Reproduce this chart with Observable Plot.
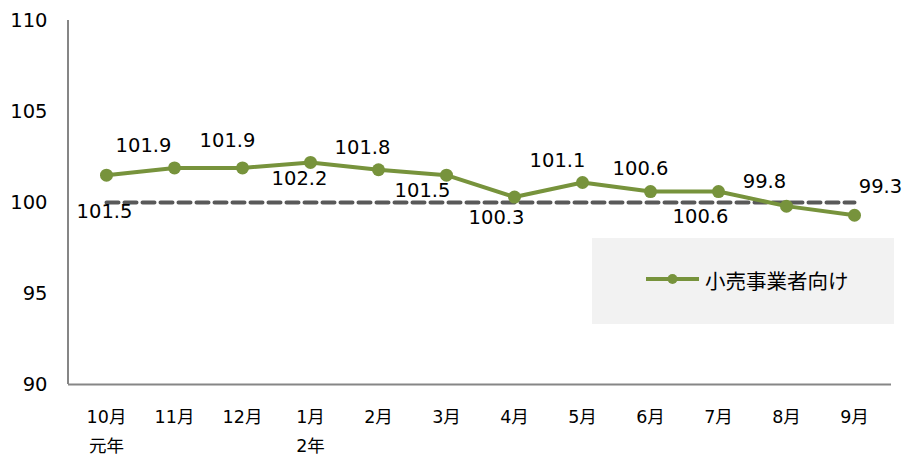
<!DOCTYPE html>
<html>
<head>
<meta charset="utf-8">
<script src="https://cdn.jsdelivr.net/npm/d3@7"></script>
<script src="https://cdn.jsdelivr.net/npm/@observablehq/plot@0.6"></script>
<style>
  html, body { margin: 0; padding: 0; background: #fff; }
  #wrap { position: relative; width: 906px; height: 459px; font-family: "DejaVu Sans", "Noto Sans CJK JP", sans-serif; }
  #wrap svg { overflow: visible; }
  #legend { position: absolute; left: 592px; top: 238px; width: 302px; height: 86px; background: #F2F2F2; }
  #legend svg { position: absolute; left: 52px; top: 33px; }
  #legend span { position: absolute; left: 113px; top: 30px; font-size: 20.5px; color: #000; line-height: 24px; white-space: nowrap; font-family: "Noto Sans CJK JP", sans-serif; }
</style>
</head>
<body>
<div id="wrap"></div>
<script>
// ---- data ----
const months = ["10月","11月","12月","1月","2月","3月","4月","5月","6月","7月","8月","9月"];
const years  = ["元年","","","2年","","","","","","","",""];
const values = [101.5,101.9,101.9,102.2,101.8,101.5,100.3,101.1,100.6,100.6,99.8,99.3];
const baseline = 100;
const yTicks = [90, 95, 100, 105, 110];
const seriesName = "小売事業者向け";

// ---- layout (label nudges, px) ----
const labelNudge = [[-2,37],[-31,-22],[-15,-27],[-11,16],[-16,-22],[-24,16],[-18,21],[-25,-22],[-10,-23],[-18,25],[-22,-24],[26,-28]];

const green = "#77933C";
const data = months.map((m, i) => ({month: m, value: values[i]}));

const yAxisLine = (index, scales, values, dims) => {
  const l = d3.create("svg:line")
    .attr("x1", dims.marginLeft).attr("x2", dims.marginLeft)
    .attr("y1", scales.y(110)).attr("y2", scales.y(90))
    .attr("stroke", "#868686").attr("stroke-width", 2);
  return l.node();
};

const chart = Plot.plot({
  width: 906,
  height: 459,
  marginLeft: 68,
  marginRight: 15,
  marginTop: 20,
  marginBottom: 75,
  style: {fontFamily: '"DejaVu Sans", "Noto Sans CJK JP", sans-serif', background: "#fff", color: "#000", overflow: "visible"},
  x: {type: "point", domain: months, padding: 0.5},
  y: {domain: [90, 110]},
  marks: [
    Plot.axisY({ticks: yTicks, tickSize: 0, tickPadding: 21, fontSize: 19.5, label: null, textAnchor: "end"}),
    Plot.axisX({tickSize: 0, tickPadding: 18, fontSize: 17.5, label: null, lineHeight: 1.65,
      tickFormat: (d) => { const i = months.indexOf(d); return years[i] ? d + "\n" + years[i] : d; }}),
    Plot.lineY(months, {x: d => d, y: () => baseline, stroke: "#595959", strokeWidth: 4, strokeDasharray: "12,6"}),
    Plot.ruleY([90], {stroke: "#868686", strokeWidth: 2}),
    yAxisLine,
    Plot.lineY(data, {x: "month", y: "value", stroke: green, strokeWidth: 4}),
    Plot.dot(data, {x: "month", y: "value", r: 6.5, fill: green, stroke: "none"}),
    ...data.map((d, i) => Plot.text([d], {x: "month", y: "value", text: v => v.value.toFixed(1),
      dx: labelNudge[i][0], dy: labelNudge[i][1], fontSize: 19.5, fill: "#000"}))
  ]
});
document.getElementById("wrap").appendChild(chart);

// legend
const leg = document.createElement("div");
leg.id = "legend";
leg.innerHTML = `<svg width="56" height="16"><line x1="2" y1="8" x2="55" y2="8" stroke="${green}" stroke-width="4"/><circle cx="28.5" cy="8" r="5" fill="${green}"/></svg><span>${seriesName}</span>`;
document.getElementById("wrap").appendChild(leg);
</script>
</body>
</html>
